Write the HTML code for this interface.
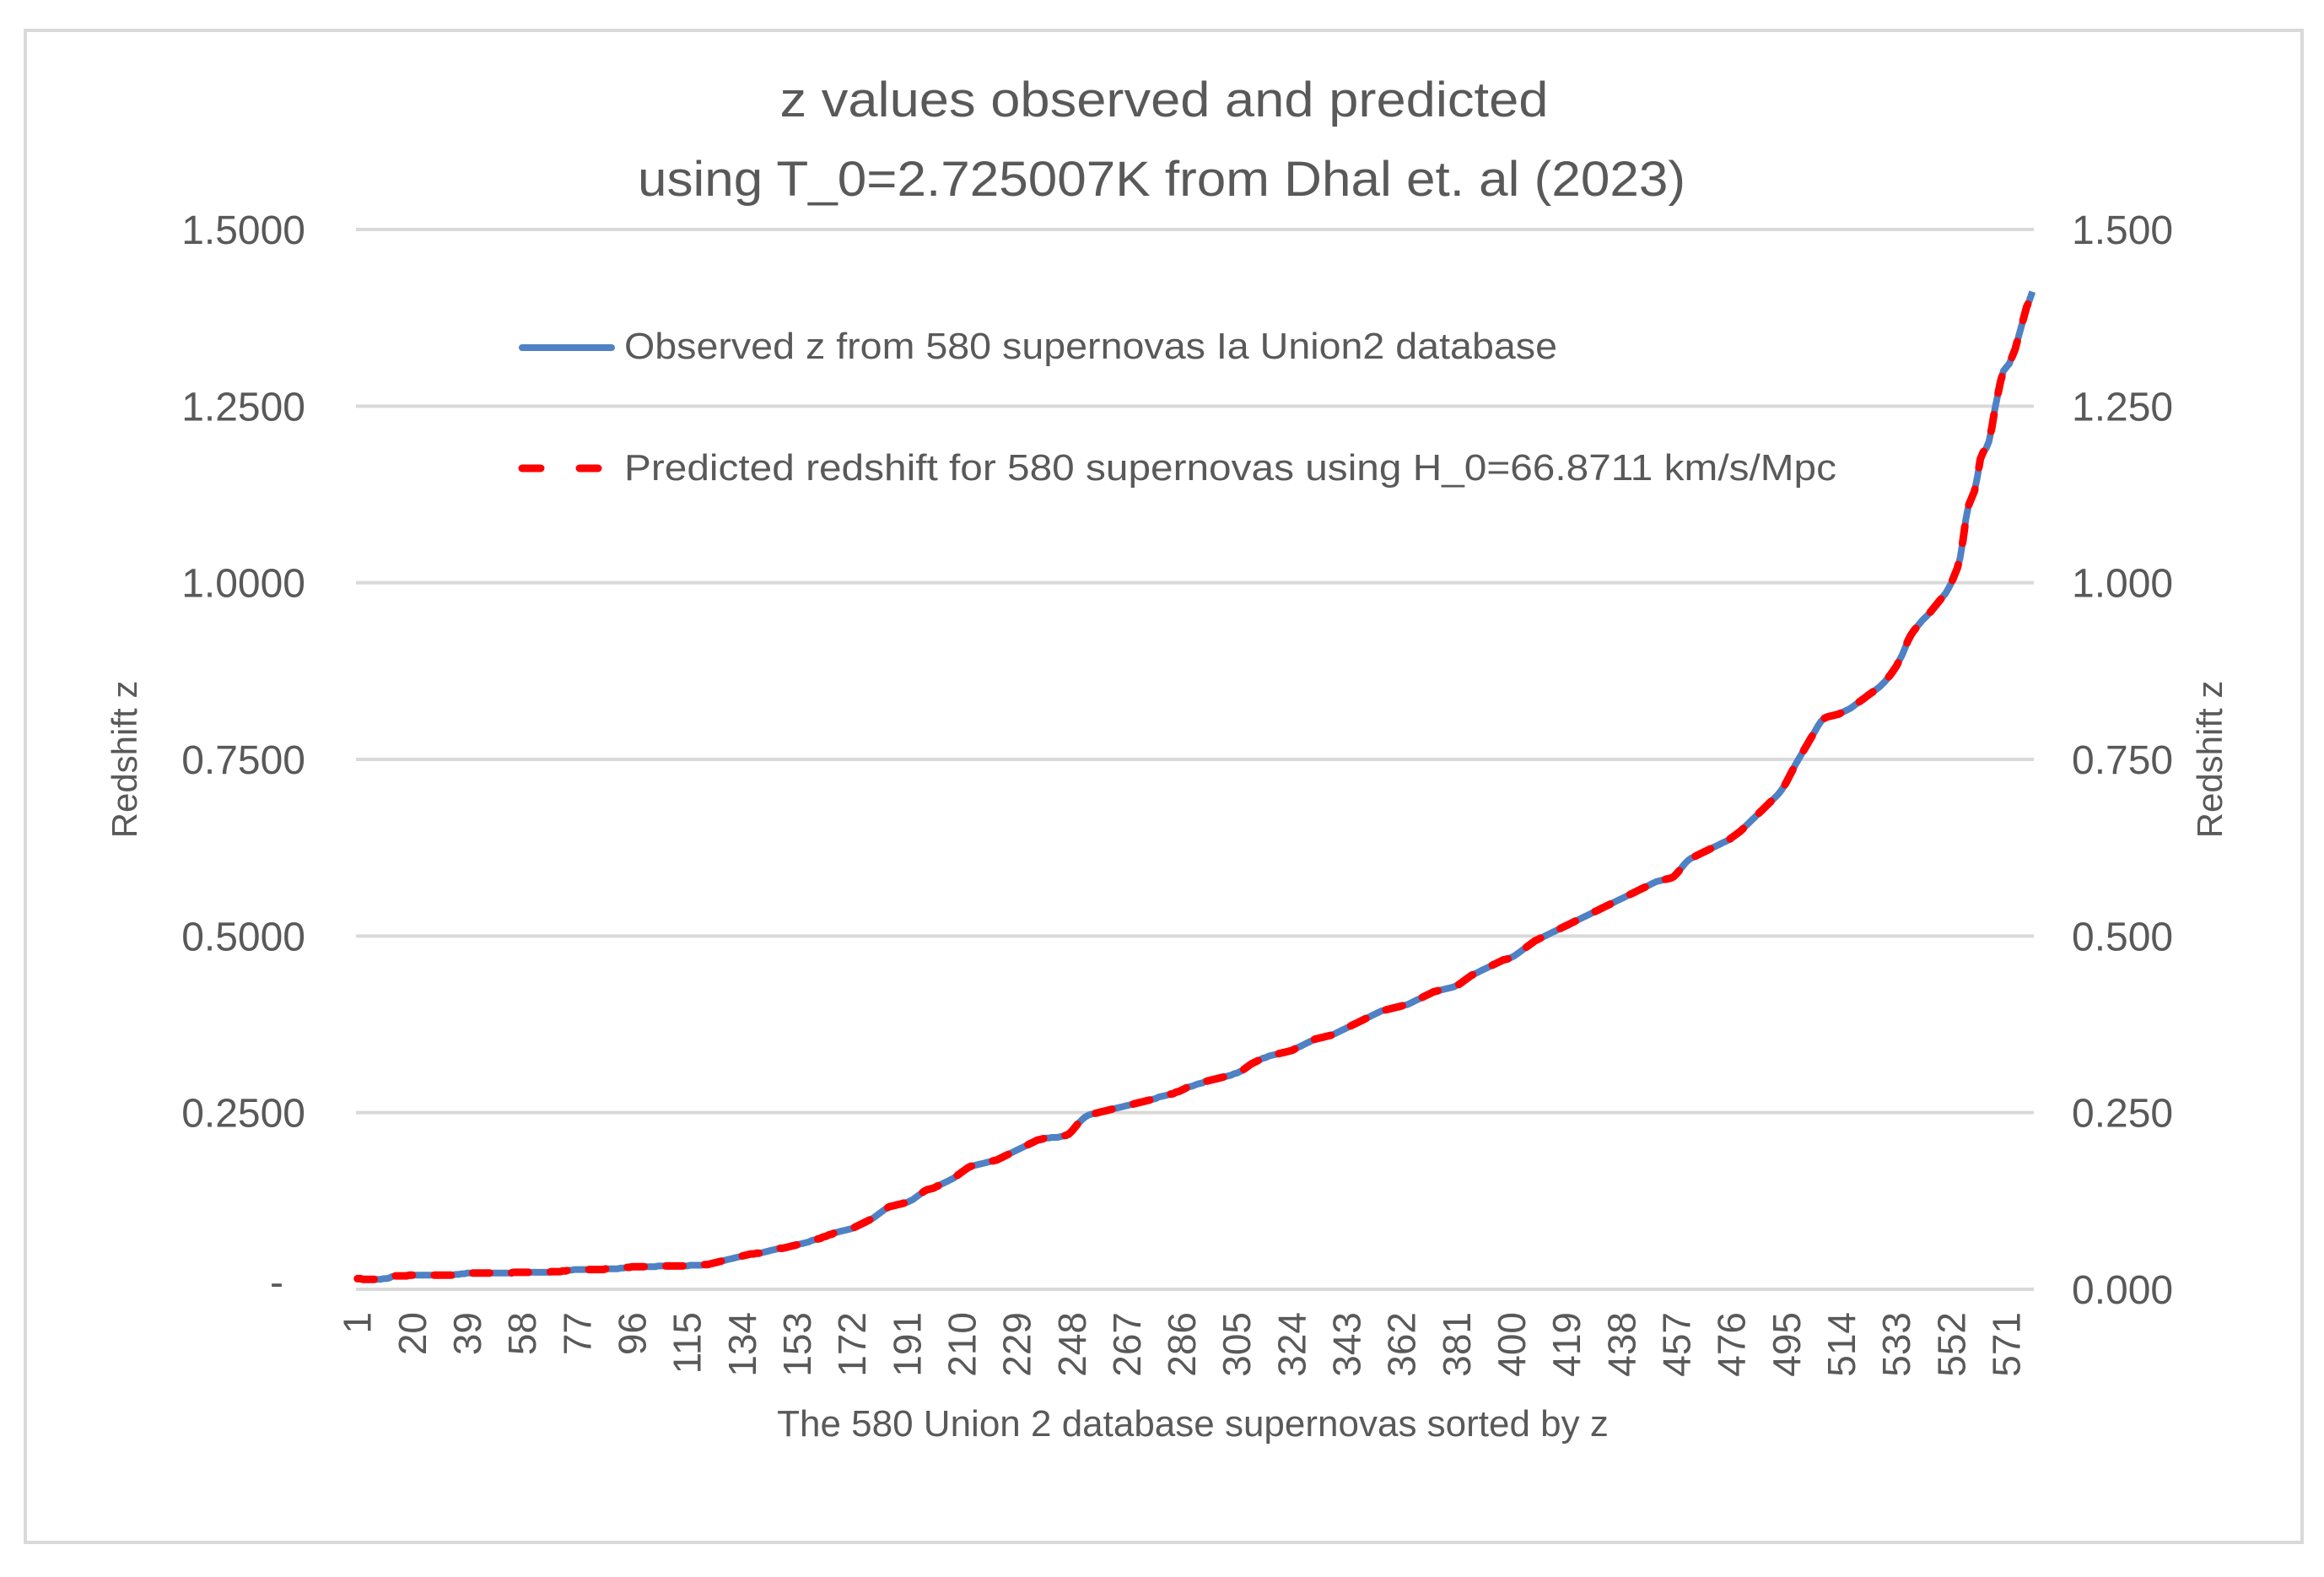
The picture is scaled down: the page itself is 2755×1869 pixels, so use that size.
<!DOCTYPE html>
<html><head><meta charset="utf-8"><style>
html,body{margin:0;padding:0;background:#fff}
svg{display:block}
text{font-family:"Liberation Sans",sans-serif;fill:#595959}
</style></head><body>
<svg id="chart" width="2755" height="1869" viewBox="0 0 2755 1869" xmlns="http://www.w3.org/2000/svg">
<rect x="30" y="36" width="2699" height="1792" fill="#fff" stroke="#d9d9d9" stroke-width="4"/>
<text x="1380" y="138" font-size="58" text-anchor="middle" textLength="911" lengthAdjust="spacingAndGlyphs">z values observed and  predicted</text>
<text x="1377" y="232" font-size="58" text-anchor="middle" textLength="1242" lengthAdjust="spacingAndGlyphs">using T_0=2.725007K from Dhal et. al (2023)</text>
<g id="grid"></g>
<g id="ticks"></g>
<g id="series"></g>
<g>
<line x1="619" y1="412" x2="725" y2="412" stroke="#4f81c4" stroke-width="8" stroke-linecap="round"/>
<text x="740" y="425" font-size="44" textLength="1106" lengthAdjust="spacingAndGlyphs">Observed z from 580 supernovas Ia Union2 database</text>
<line x1="619" y1="555" x2="725" y2="555" stroke="#ff0000" stroke-width="9" stroke-linecap="round" stroke-dasharray="22 46"/>
<text x="740" y="569" font-size="44" textLength="1437" lengthAdjust="spacingAndGlyphs">Predicted redshift for 580 supernovas using H_0=66.8711 km/s/Mpc</text>
</g>
<text transform="translate(162,900) rotate(-90)" font-size="42" text-anchor="middle">Redshift z</text>
<text transform="translate(2634,900) rotate(-90)" font-size="42" text-anchor="middle">Redshift z</text>
<text x="1414" y="1702" font-size="44" text-anchor="middle">The 580 Union 2 database supernovas sorted by z</text>
</svg>
<script>
const observed=[.015,.015,.014,.014,.014,.014,.014,.014,.014,.015,
.015,.016,.018,.019,.019,.019,.019,.019,.020,.020,
.020,.020,.020,.020,.020,.020,.020,.020,.020,.020,
.020,.020,.020,.020,.021,.021,.022,.022,.023,.023,
.023,.023,.023,.023,.023,.023,.023,.023,.023,.023,
.023,.023,.023,.023,.024,.024,.024,.024,.024,.024,
.024,.024,.024,.024,.024,.024,.024,.025,.025,.025,
.025,.026,.026,.027,.027,.028,.028,.028,.028,.028,
.028,.028,.028,.028,.028,.028,.029,.029,.029,.029,
.029,.030,.030,.031,.031,.032,.032,.032,.032,.032,
.032,.032,.032,.032,.033,.033,.033,.033,.033,.033,
.033,.033,.033,.033,.033,.034,.034,.034,.034,.034,
.035,.035,.036,.037,.038,.039,.040,.041,.042,.043,
.044,.045,.046,.047,.048,.049,.050,.050,.051,.051,
.052,.053,.054,.055,.056,.057,.058,.058,.059,.060,
.061,.062,.063,.064,.065,.066,.067,.069,.070,.071,
.072,.074,.075,.077,.078,.080,.081,.082,.083,.084,
.085,.086,.088,.090,.092,.094,.096,.098,.100,.103,
.106,.109,.112,.115,.117,.118,.119,.120,.121,.122,
.123,.125,.127,.130,.133,.136,.139,.141,.142,.143,
.145,.147,.149,.151,.153,.155,.157,.160,.163,.166,
.169,.172,.174,.175,.176,.177,.178,.179,.180,.181,
.182,.183,.185,.187,.189,.191,.193,.195,.197,.199,
.201,.203,.205,.207,.209,.211,.212,.213,.214,.214,
.215,.215,.215,.216,.217,.218,.220,.224,.229,.234,
.238,.242,.245,.247,.248,.249,.250,.251,.252,.253,
.254,.255,.256,.257,.258,.259,.260,.261,.262,.263,
.264,.265,.266,.267,.268,.269,.270,.272,.273,.274,
.275,.276,.277,.279,.280,.282,.284,.286,.287,.288,
.290,.291,.292,.294,.295,.296,.297,.298,.299,.300,
.301,.302,.303,.305,.306,.308,.310,.313,.316,.319,
.321,.323,.325,.327,.328,.330,.331,.332,.333,.334,
.335,.336,.337,.338,.340,.342,.344,.346,.348,.350,
.352,.354,.355,.356,.357,.358,.359,.360,.362,.364,
.366,.368,.370,.372,.374,.376,.378,.380,.382,.384,
.386,.388,.390,.392,.394,.395,.396,.397,.398,.399,
.400,.401,.402,.403,.405,.407,.409,.411,.413,.415,
.417,.419,.421,.422,.423,.424,.425,.426,.427,.428,
.430,.432,.435,.438,.441,.444,.446,.448,.450,.452,
.454,.456,.458,.460,.462,.464,.466,.467,.468,.470,
.472,.475,.478,.481,.484,.487,.490,.493,.495,.497,
.499,.501,.503,.505,.507,.509,.511,.513,.515,.517,
.519,.521,.523,.525,.527,.529,.531,.533,.535,.537,
.539,.541,.543,.545,.547,.549,.551,.553,.555,.557,
.559,.561,.563,.565,.567,.569,.571,.573,.575,.577,
.578,.579,.580,.581,.582,.584,.588,.593,.598,.603,
.607,.610,.612,.614,.616,.618,.620,.622,.624,.626,
.628,.630,.632,.634,.636,.639,.642,.645,.648,.652,
.656,.660,.664,.668,.672,.676,.680,.684,.688,.692,
.696,.700,.705,.711,.718,.726,.734,.742,.749,.756,
.763,.770,.777,.784,.791,.798,.804,.808,.810,.811,
.812,.813,.814,.816,.818,.820,.822,.825,.828,.831,
.834,.837,.840,.843,.846,.849,.852,.856,.860,.865,
.870,.876,.882,.890,.898,.908,.918,.926,.932,.937,
.942,.947,.951,.955,.960,.965,.970,.975,.980,.985,
.992,1.000,1.010,1.020,1.035,1.060,1.090,1.110,1.120,1.130,
1.150,1.175,1.185,1.190,1.200,1.220,1.245,1.265,1.285,1.300,
1.305,1.310,1.320,1.330,1.345,1.360,1.375,1.390,1.400,1.412];
const predicted=[.015,.015,.014,.014,.014,.014,.014,.014,.014,.015,
.015,.016,.018,.019,.019,.019,.019,.019,.020,.020,
.020,.020,.020,.020,.020,.020,.020,.020,.020,.020,
.020,.020,.020,.020,.021,.021,.022,.022,.023,.023,
.023,.023,.023,.023,.023,.023,.023,.023,.023,.023,
.023,.023,.023,.023,.024,.024,.024,.024,.024,.024,
.024,.024,.024,.024,.024,.024,.024,.025,.025,.025,
.025,.026,.026,.027,.027,.028,.028,.028,.028,.028,
.028,.028,.028,.028,.028,.028,.029,.029,.029,.029,
.029,.030,.030,.031,.031,.032,.032,.032,.032,.032,
.032,.032,.032,.032,.033,.033,.033,.033,.033,.033,
.033,.033,.033,.033,.033,.034,.034,.034,.034,.034,
.035,.035,.036,.037,.038,.039,.040,.041,.042,.043,
.044,.045,.046,.047,.048,.049,.050,.050,.051,.051,
.052,.053,.054,.055,.056,.057,.058,.058,.059,.060,
.061,.062,.063,.064,.065,.066,.067,.069,.070,.071,
.072,.074,.075,.077,.078,.080,.081,.082,.083,.084,
.085,.086,.088,.090,.092,.094,.096,.098,.100,.103,
.106,.109,.112,.115,.117,.118,.119,.120,.121,.122,
.123,.125,.127,.130,.133,.136,.139,.141,.142,.143,
.145,.147,.149,.151,.153,.155,.157,.160,.163,.166,
.169,.172,.174,.175,.176,.177,.178,.179,.180,.181,
.182,.183,.185,.187,.189,.191,.193,.195,.197,.199,
.201,.203,.205,.207,.209,.211,.212,.213,.214,.214,
.215,.215,.215,.216,.217,.218,.220,.224,.229,.234,
.238,.242,.245,.247,.248,.249,.250,.251,.252,.253,
.254,.255,.256,.257,.258,.259,.260,.261,.262,.263,
.264,.265,.266,.267,.268,.269,.270,.272,.273,.274,
.275,.276,.277,.279,.280,.282,.284,.286,.287,.288,
.290,.291,.292,.294,.295,.296,.297,.298,.299,.300,
.301,.302,.303,.305,.306,.308,.310,.313,.316,.319,
.321,.323,.325,.327,.328,.330,.331,.332,.333,.334,
.335,.336,.337,.338,.340,.342,.344,.346,.348,.350,
.352,.354,.355,.356,.357,.358,.359,.360,.362,.364,
.366,.368,.370,.372,.374,.376,.378,.380,.382,.384,
.386,.388,.390,.392,.394,.395,.396,.397,.398,.399,
.400,.401,.402,.403,.405,.407,.409,.411,.413,.415,
.417,.419,.421,.422,.423,.424,.425,.426,.427,.428,
.430,.432,.435,.438,.441,.444,.446,.448,.450,.452,
.454,.456,.458,.460,.462,.464,.466,.467,.468,.470,
.472,.475,.478,.481,.484,.487,.490,.493,.495,.497,
.499,.501,.503,.505,.507,.509,.511,.513,.515,.517,
.519,.521,.523,.525,.527,.529,.531,.533,.535,.537,
.539,.541,.543,.545,.547,.549,.551,.553,.555,.557,
.559,.561,.563,.565,.567,.569,.571,.573,.575,.577,
.578,.579,.580,.581,.582,.584,.588,.593,.598,.603,
.607,.610,.612,.614,.616,.618,.620,.622,.624,.626,
.628,.630,.632,.634,.636,.639,.642,.645,.648,.652,
.656,.660,.664,.668,.672,.676,.680,.684,.688,.692,
.696,.700,.705,.711,.718,.726,.734,.742,.749,.756,
.763,.770,.777,.784,.791,.798,.804,.808,.810,.811,
.812,.813,.814,.816,.818,.820,.822,.825,.828,.831,
.834,.837,.840,.843,.846,.849,.852,.856,.860,.865,
.870,.876,.882,.890,.898,.908,.918,.926,.932,.937,
.942,.947,.951,.955,.960,.965,.970,.975,.980,.985,
.992,1.000,1.010,1.020,1.035,1.060,1.090,1.110,1.120,1.130,
1.150,1.175,1.185,1.190,1.200,1.220,1.245,1.265,1.285,1.300,
1.305,1.310,1.320,1.330,1.345,1.360,1.375,1.390,1.400,1.412];
const yTicks=[0,0.25,0.5,0.75,1.0,1.25,1.5];
const leftTickLabels=["-","0.2500","0.5000","0.7500","1.0000","1.2500","1.5000"];
const rightTickLabels=["0.000","0.250","0.500","0.750","1.000","1.250","1.500"];
const xTickStep=19;

const NS="http://www.w3.org/2000/svg";
const X0=422,X1=2411,Y0=1528,Y1=272,YMAX=1.5;
const N=observed.length;
const bw=(X1-X0)/N;
function xs(i){return X0+(i+0.5)*bw;}
function ys(v){return Y0-(v/YMAX)*(Y0-Y1);}
function mk(tag,attrs,parent){const e=document.createElementNS(NS,tag);for(const k in attrs)e.setAttribute(k,attrs[k]);parent.appendChild(e);return e;}
const grid=document.getElementById('grid'),ticks=document.getElementById('ticks'),series=document.getElementById('series');
yTicks.forEach((v,i)=>{
  const g=mk('line',{x1:X0,x2:X1,y1:ys(v),y2:ys(v),stroke:'#d9d9d9','stroke-width':4},grid);
  
  
  const l=mk('text',{x:i===0?336:362,y:ys(v)+(i===0?8:17),'font-size':48,'text-anchor':'end'},ticks);
  l.textContent=leftTickLabels[i];
  
  
  const r=mk('text',{x:2456,y:ys(v)+17,'font-size':48},ticks);
  r.textContent=rightTickLabels[i];
  
  
});
for(let i=0;i<N;i+=xTickStep){
  const x=xs(i);
  const t=mk('text',{transform:`translate(${x+16},1555) rotate(-90)`,'font-size':46,'text-anchor':'end'},ticks);
  t.textContent=String(i+1);
  
  
}
function pathOf(arr){return arr.map((v,i)=>(i?'L':'M')+xs(i).toFixed(1)+' '+ys(v).toFixed(1)).join(' ');}
const po=mk('path',{d:pathOf(observed),fill:'none',stroke:'#4f81c4','stroke-width':8,'stroke-linejoin':'round'},series);


const pp=mk('path',{d:pathOf(predicted),fill:'none',stroke:'#ff0000','stroke-width':9,'stroke-linecap':'round','stroke-linejoin':'round','stroke-dasharray':'20 26'},series);


</script>
</body></html>
